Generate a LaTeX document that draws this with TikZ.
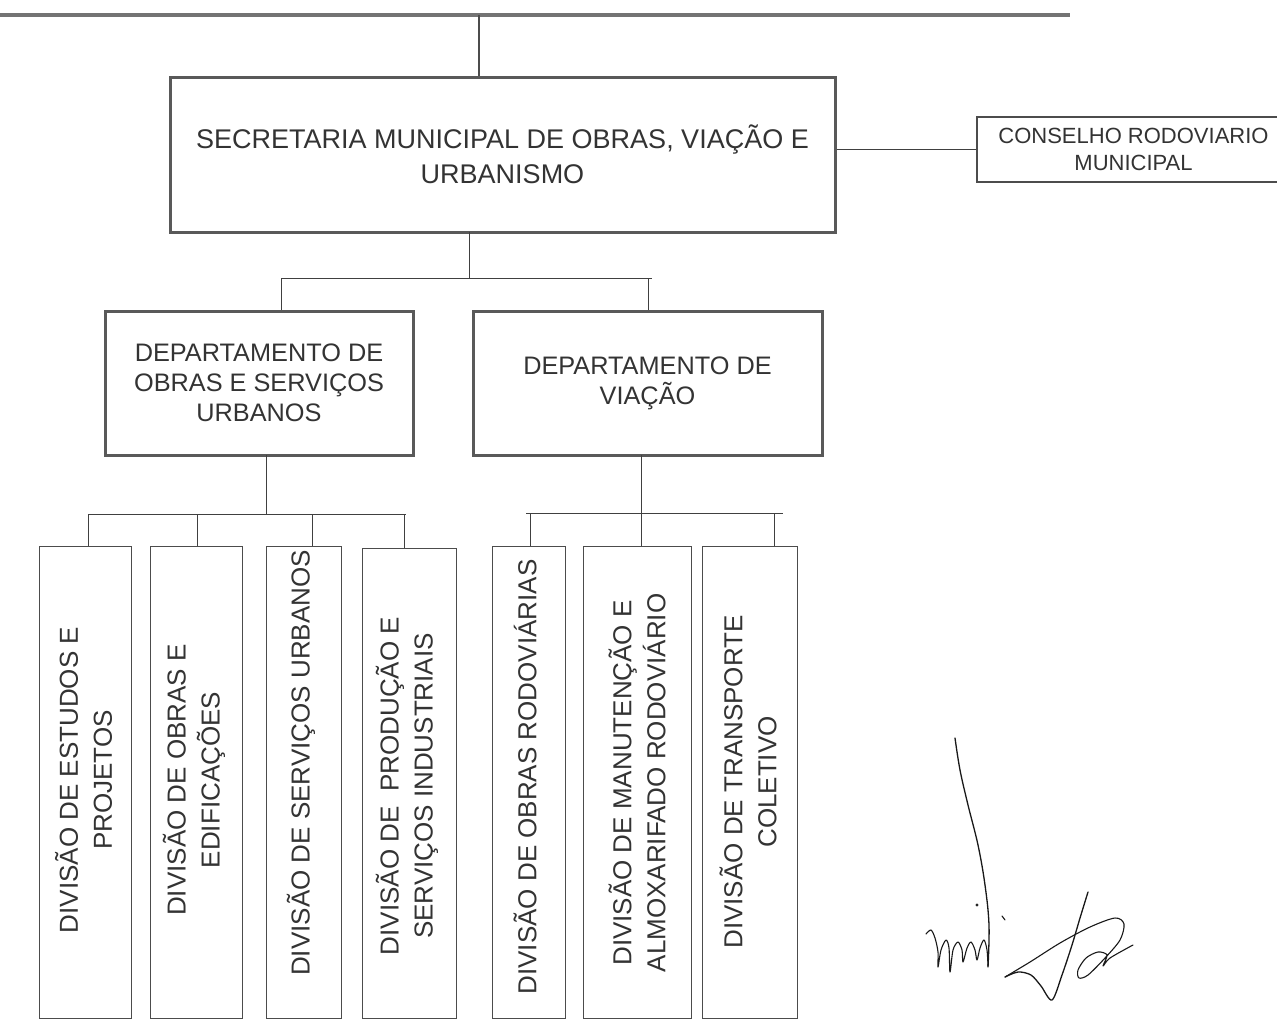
\documentclass[tikz,border=0pt]{standalone}
\usepackage{fontspec}
\setmainfont{Liberation Sans}
\begin{document}
\begin{tikzpicture}[x=1pt,y=-1pt,
  bigbox/.style={draw=black!65, line width=3pt, inner sep=0pt, align=center, text=black!80},
  lowbox/.style={draw=black!70, line width=1pt, inner sep=0pt, minimum height=472pt},
  conn/.style={draw=black!75, line width=1pt},
  vtext/.style={rotate=90, align=center, inner sep=0pt, text=black!80, font=\fontsize{26}{34}\selectfont},
  sig/.style={draw=black!90, line width=1.3pt, line cap=round, line join=round}]
\clip (0,0) rectangle (1277,1021);
\fill[white] (0,0) rectangle (1277,1021);

% top bar
\coordinate (tl) at (0,15);
\coordinate (tr) at (1070,15);
\coordinate (tj) at (479,15);
\draw[black!55, line width=4.5pt] (tl) -- (tr);

% main boxes
\node[bigbox, minimum width=665pt, minimum height=155pt, font=\fontsize{27}{35}\selectfont] (sec) at (502.5,154.5)
  {SECRETARIA MUNICIPAL DE OBRAS, VIAÇÃO E\\URBANISMO};
\node[draw=black!70, line width=2pt, inner sep=0pt, align=center, text=black!80, minimum width=313pt, minimum height=65pt,
  font=\fontsize{22}{27}\selectfont] (cons) at (1133.5,149.5) {CONSELHO RODOVIARIO\\MUNICIPAL};
\node[bigbox, minimum width=308pt, minimum height=144pt, font=\fontsize{25.3}{30}\selectfont] (d1) at (259,383)
  {DEPARTAMENTO DE\\OBRAS E SERVIÇOS\\URBANOS};
\node[bigbox, minimum width=349pt, minimum height=144pt, font=\fontsize{25.3}{30}\selectfont] (d2) at (647.5,383)
  {DEPARTAMENTO DE\\VIAÇÃO};

% lower boxes
\node[lowbox, minimum width=92pt] (b1) at (85,782) {};
\node[lowbox, minimum width=92pt] (b2) at (196,782) {};
\node[lowbox, minimum width=75pt] (b3) at (303.5,782) {};
\node[lowbox, minimum width=94pt, minimum height=470pt] (b4) at (409,783) {};
\node[lowbox, minimum width=73pt] (b5) at (528.5,782) {};
\node[lowbox, minimum width=108pt] (b6) at (637,782) {};
\node[lowbox, minimum width=95pt] (b7) at (749.5,782) {};

\node[vtext] (b1t) at (83.5,780) {DIVISÃO DE ESTUDOS E\\PROJETOS};
\node[vtext] (b2t) at (194,780) {DIVISÃO DE OBRAS E\\EDIFICAÇÕES};
\node[vtext] (b3t) at (301,763) {DIVISÃO DE SERVIÇOS URBANOS};
\node[vtext] (b4t) at (407,786) {DIVISÃO DE \ PRODUÇÃO E\\SERVIÇOS INDUSTRIAIS};
\node[vtext] (b5t) at (525,777) {DIVISÃO DE OBRAS RODOVIÁRIAS};
\node[vtext] (b6t) at (637,783) {DIVISÃO DE MANUTENÇÃO E\\ALMOXARIFADO RODOVIÁRIO};
\node[vtext] (b7t) at (748,782) {DIVISÃO DE TRANSPORTE\\COLETIVO};

% connectors
\draw[black!70, line width=1.5pt] (tj) -- (tj |- sec.north);
\draw[conn] (sec.east |- cons.west) -- (cons.west);

\coordinate (s1) at (469,232);
\coordinate (j1) at (469,278);
\coordinate (h1l) at (281,278);
\coordinate (h1r) at (652,278);
\coordinate (h1d) at (648,278);
\draw[conn] (s1) -- (j1);
\draw[conn] (h1l) -- (h1r);
\draw[conn] (h1l) -- (h1l |- d1.north);
\draw[conn] (h1d) -- (h1d |- d2.north);

\coordinate (d1b) at (266,455);
\coordinate (h2l) at (88,514);
\coordinate (h2r) at (406,514);
\coordinate (p2) at (197,514);
\coordinate (p3) at (312,514);
\coordinate (p4) at (404,514);
\draw[conn] (d1b) -- (d1b |- h2l);
\draw[conn] (h2l) -- (h2r);
\draw[conn] (h2l) -- (h2l |- b1.north);
\draw[conn] (p2) -- (p2 |- b2.north);
\draw[conn] (p3) -- (p3 |- b3.north);
\draw[conn] (p4) -- (p4 |- b4.north);

\coordinate (d2b) at (641,455);
\coordinate (h3l) at (526,513);
\coordinate (h3r) at (783,513);
\coordinate (p5) at (530,513);
\coordinate (p7) at (774,513);
\draw[conn] (d2b) -- (d2b |- b6.north);
\draw[conn] (h3l) -- (h3r);
\draw[conn] (p5) -- (p5 |- b5.north);
\draw[conn] (p7) -- (p7 |- b7.north);

% signatures
\draw[sig] plot[smooth, tension=0.6] coordinates {(955,738) (960,770) (968,805) (978,845) (985,885) (989,925) (988,967)};
\draw[sig, line width=1.1pt] plot[smooth, tension=0.5] coordinates {(926,934) (931,930) (935,938) (938,952) (938,967) (941,950) (946,940) (949,948) (950,972) (953,950) (958,942) (962,950) (963,962) (967,948) (971,942) (975,950) (977,960) (980,948) (984,940) (987,950) (988,966)};
\fill[black!85] (977,905) circle (1.6pt);
\draw[sig, line width=1.1pt] (1002,916) -- (1005,920);
\draw[sig] plot[smooth, tension=0.5] coordinates {(1005,977) (1018,972) (1031,975) (1041,986) (1052,1000) (1062,975) (1072,945) (1080,918) (1088,892)};
\draw[sig, line width=1.1pt] plot[smooth, tension=0.5] coordinates {(1005,977) (1030,962) (1060,943) (1090,927) (1115,918) (1124,924) (1120,940) (1105,958) (1088,975) (1079,978) (1078,970) (1086,958) (1098,952) (1107,955) (1103,966) (1110,958) (1133,945)};
\end{tikzpicture}
\end{document}
